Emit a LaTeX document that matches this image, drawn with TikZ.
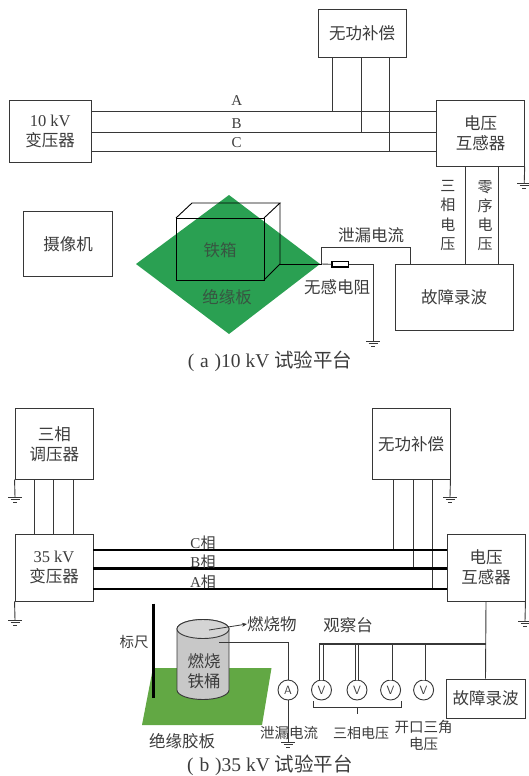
\documentclass[tikz,border=0pt]{standalone}
\usepackage{fontspec}
\setmainfont{Liberation Serif}
\newfontfamily\cjk{Noto Sans CJK SC}
\usetikzlibrary{arrows.meta}
\definecolor{ln}{RGB}{55,55,55}
\definecolor{tx}{RGB}{60,60,60}
\definecolor{boardA}{RGB}{42,160,82}
\definecolor{boardB}{RGB}{98,168,68}
\definecolor{cylfill}{RGB}{200,200,200}
\definecolor{cyltop}{RGB}{212,212,212}
\newcommand\zh[2]{\fontsize{#1}{#2}\selectfont\cjk}
\begin{document}
\begin{tikzpicture}[x=1pt,y=-1pt,
  wire/.style={draw=ln,line width=0.9pt},
  edge/.style={draw=black,line width=0.9pt},
  phase/.style={draw=black,line width=2.6pt},
  box/.style={draw=ln,line width=0.9pt,fill=white,inner sep=0pt,align=center,text=tx,font=\zh{16.5}{20}},
  lab/.style={inner sep=0pt,text=tx,font=\zh{15}{18},align=center},
  latin/.style={inner sep=0pt,text=tx,font=\fontsize{15}{18}\selectfont\rmfamily},
  vert/.style={inner sep=0pt,text=tx,font=\zh{15}{19.2},align=center},
  caption/.style={inner sep=0pt,text=tx,font=\zh{19.5}{22}},
  meter/.style={circle,draw=ln,line width=0.9pt,fill=white,minimum size=20,inner sep=0pt,text=tx,font=\fontsize{12}{13}\selectfont\sffamily},
  dbl/.style={draw=ln,line width=0.7pt,double=white,double distance=2.8pt},
  res/.style={draw=black,line width=1.4pt,fill=white,minimum width=16.5,minimum height=5.5,inner sep=0pt},
  gnd/.pic={
    \draw[wire] (-7,0) -- (7,0);
    \draw[wire] (-4.5,2.8) -- (4.5,2.8);
    \draw[wire] (-2,5.6) -- (2,5.6);
  }
]
\useasboundingbox (0,0) rectangle (528,776);

% ---------------- (a) 10 kV platform ----------------
\node[box,minimum width=81.5,minimum height=62.3] (tr10) at (50.2,131.5) {{\rmfamily 10 kV}\\变压器};
\node[box,minimum width=88,minimum height=48] (qc10) at (362,33.3) {无功补偿};
\node[box,minimum width=87.5,minimum height=65.7] (pt10) at (480.5,133.2) {电压\\互感器};
\node[box,minimum width=89,minimum height=65.5] (cam) at (68.2,244) {摄像机};
\node[box,minimum width=118.5,minimum height=66] (fr10) at (454.2,297) {故障录波};

% three phase lines
\coordinate (yA) at (0,111.4);
\coordinate (yB) at (0,132);
\coordinate (yC) at (0,151.2);
\draw[wire] (tr10.east |- yA) -- (pt10.west |- yA);
\draw[wire] (tr10.east |- yB) -- (pt10.west |- yB);
\draw[wire] (tr10.east |- yC) -- (pt10.west |- yC);
\node[latin] (lA) at (236.7,100.5) {A};
\node[latin] (lB) at (236.7,123.5) {B};
\node[latin] (lC) at (236.7,142.5) {C};

% compensator taps
\coordinate (qa) at (332.7,111.4);
\coordinate (qb) at (361.3,132);
\coordinate (qc) at (389.9,151.2);
\draw[wire] (qc10.south -| qa) -- (qa);
\draw[wire] (qc10.south -| qb) -- (qb);
\draw[wire] (qc10.south -| qc) -- (qc);

% PT secondary to recorder
\coordinate (s3) at (465.6,0);
\coordinate (s0) at (498.3,0);
\draw[wire] (pt10.south -| s3) -- (fr10.north -| s3);
\draw[wire] (pt10.south -| s0) -- (fr10.north -| s0);
\node[vert] (v3) at (447.8,215.5) {三\\相\\电\\压};
\node[vert] (v0) at (485,215.5) {零\\序\\电\\压};
\coordinate (g1) at (524.2,183);
\draw[wire] (pt10.south east) -- (g1);
\pic at (g1) {gnd};

% insulating board and iron box
\fill[boardA] (136,264) -- (229,195) -- (320,264) -- (229,334) -- cycle;
\draw[edge] (176,218) rectangle (264,280);
\draw[edge] (176,218) -- (192,203) -- (280,203) -- (264,218);
\coordinate (boxout) at (280,264);
\draw[edge] (280,203) -- (boxout) -- (264,280);
\node[lab,font=\zh{16.5}{20},text opacity=0.75] (tx1) at (220,250) {铁箱};
\node[lab,font=\zh{16.5}{20},text opacity=0.75] (tx2) at (227,297) {绝缘板};

% leakage current path
\coordinate (jn) at (321.5,264);
\node[res] (R) at (340.2,264.3) {};
\draw[edge] (boxout) -- (jn);
\draw[wire] (jn) -- (R.west);
\coordinate (rg) at (373,264.3);
\coordinate (g2) at (373,341);
\draw[wire] (R.east) -- (rg) -- (g2);
\pic at (g2) {gnd};
\coordinate (lk) at (321.5,247);
\coordinate (lk2) at (410,247);
\draw[wire] (jn) -- (lk) -- (lk2) -- (fr10.north -| lk2);
\node[lab,font=\zh{16.5}{20}] (tleak) at (371,235.5) {泄漏电流};
\node[lab,font=\zh{16.5}{20}] (tres) at (337,287) {无感电阻};

\node[caption] (capA) at (270,361)
  {{\rmfamily (\hspace{0.3em}a\hspace{0.3em})10 kV }试验平台};

% ---------------- (b) 35 kV platform ----------------
\node[box,minimum width=78.6,minimum height=70.5] (reg) at (54.3,443.8) {三相\\调压器};
\node[box,minimum width=78,minimum height=67] (tr35) at (54,567.5) {{\rmfamily 35 kV}\\变压器};
\node[box,minimum width=78,minimum height=70.5] (qc35) at (411,443.8) {无功补偿};
\node[box,minimum width=78,minimum height=67] (pt35) at (486,567.5) {电压\\互感器};
\node[box,minimum width=79,minimum height=39] (fr35) at (485.5,698.5) {故障录波};

% regulator to transformer
\coordinate (r1) at (34.7,0);
\coordinate (r2) at (53.9,0);
\coordinate (r3) at (73.4,0);
\draw[wire] (reg.south -| r1) -- (tr35.north -| r1);
\draw[wire] (reg.south -| r2) -- (tr35.north -| r2);
\draw[wire] (reg.south -| r3) -- (tr35.north -| r3);

% grounds
\coordinate (gb1) at (15,497);
\coordinate (gb2) at (15,620);
\coordinate (gb3) at (450,497);
\coordinate (gb4) at (525,621);
\draw[wire] (reg.south west) -- (gb1);
\draw[wire] (tr35.south west) -- (gb2);
\draw[wire] (qc35.south east) -- (gb3);
\draw[wire] (pt35.south east) -- (gb4);
\pic at (gb1) {gnd};
\pic at (gb2) {gnd};
\pic at (gb3) {gnd};
\pic at (gb4) {gnd};

% compensator taps
\coordinate (pc) at (393,550);
\coordinate (pb) at (413,568.5);
\coordinate (pa) at (432,589);
\draw[wire] (qc35.south -| pc) -- (pc);
\draw[wire] (qc35.south -| pb) -- (pb);
\draw[wire] (qc35.south -| pa) -- (pa);

% heavy phase conductors
\draw[phase] (tr35.east |- pc) -- (pt35.west |- pc);
\draw[phase] (tr35.east |- pb) -- (pt35.west |- pb);
\draw[phase] (tr35.east |- pa) -- (pt35.west |- pa);
\node[lab] (lc) at (203,543) {{\rmfamily C}相};
\node[lab] (lb) at (203,561.5) {{\rmfamily B}相};
\node[lab] (la) at (203,581.5) {{\rmfamily A}相};

% board, ruler and burning barrel
\fill[boardB] (153,668) -- (271.5,668) -- (262,725) -- (142,725) -- cycle;
\coordinate (rt) at (153,603.6);
\coordinate (rb) at (153,698);
\draw[black,line width=3pt] (rt) -- (rb);
\node[lab,font=\zh{14.5}{17}] (truler) at (134,642) {标尺};
\filldraw[fill=cylfill,draw=ln,line width=0.9pt] (177,629) -- (177,690)
  arc[start angle=180,end angle=360,x radius=26pt,y radius=9.5pt] -- (229,629)
  arc[start angle=0,end angle=180,x radius=26pt,y radius=9.5pt] -- cycle;
\filldraw[fill=cyltop,draw=ln,line width=0.9pt] (203,629) ellipse[x radius=26pt,y radius=9.5pt];
\node[lab,font=\zh{16.5}{20}] (tbar) at (204,671) {燃烧\\铁桶};
\coordinate (fo) at (209,630);
\node[lab,font=\zh{16.5}{20},anchor=west] (tfuel) at (247,624) {燃烧物};
\draw[wire,line width=0.8pt,-{Stealth[length=5pt,width=4pt]}] (fo) -- (tfuel.west);

% leakage ammeter
\node[meter] (am) at (288,690) {A};
\coordinate (c1) at (219,642);
\coordinate (c2) at (288,642);
\coordinate (g5) at (288,742);
\draw[wire] (c1) -- (c2) -- (am.north);
\draw[wire] (am.south) -- (g5);
\pic at (g5) {gnd};

% observation bench voltmeters
\node[meter] (vm1) at (321.5,690) {V};
\node[meter] (vm2) at (357,690) {V};
\node[meter] (vm3) at (390.6,690) {V};
\node[meter] (vm4) at (423.6,690) {V};
\coordinate (bus) at (0,644);
\coordinate (busL) at (319.3,644);
\draw[dbl] (vm1.north) -- (vm1.north |- bus);
\draw[dbl] (vm2.north) -- (vm2.north |- bus);
\draw[dbl] (vm3.north) -- (vm3.north |- bus);
\draw[dbl] (vm4.north) -- (vm4.north |- bus);
\draw[wire] (pt35.south) -- (fr35.north);
\draw[draw=ln,line width=1.6pt] (busL) -- (pt35.south |- bus);
\node[lab,font=\zh{16.5}{20}] (tobs) at (348,625.5) {观察台};

% brace under the three phase voltmeters
\coordinate (bl) at (313,701);
\coordinate (br) at (401,701);
\coordinate (bm) at (357,714);
\draw[wire,line width=0.8pt] (bl) -- (313,707) -- (401,707) -- (br);
\draw[wire,line width=0.8pt] (357,707) -- (bm);

\node[lab,font=\zh{14.5}{17}] (tleakb) at (289,733) {泄漏电流};
\node[lab,font=\zh{14}{17}] (t3v) at (361,733) {三相电压};
\node[lab,font=\zh{14.5}{17}] (tdv) at (423.5,735) {开口三角\\电压};
\node[lab,font=\zh{16.5}{20}] (tboard) at (182,741.6) {绝缘胶板};

\node[caption] (capB) at (270,765.5)
  {{\rmfamily (\hspace{0.3em}b\hspace{0.3em})35 kV }试验平台};
\end{tikzpicture}
\end{document}
